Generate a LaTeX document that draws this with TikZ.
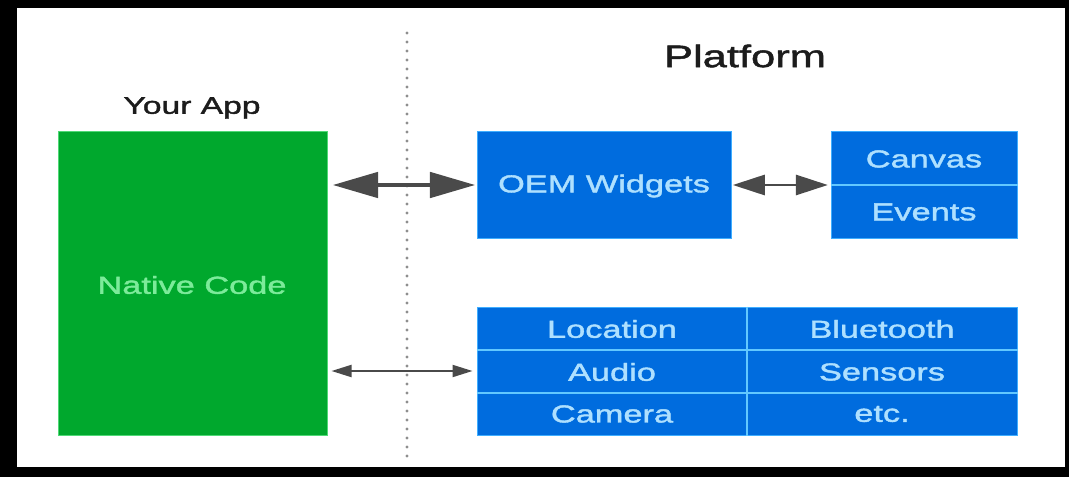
\documentclass[tikz,border=0pt]{standalone}
\usepackage{fontspec}
\setmainfont{Liberation Sans}[FakeStretch=1.4,FakeBold=1.6]
\usetikzlibrary{arrows.meta,fit,calc}

\definecolor{appgreen}{HTML}{00A82D}
\definecolor{appedge}{HTML}{4FD976}
\definecolor{apptext}{HTML}{7CEB9A}
\definecolor{platblue}{HTML}{006CDE}
\definecolor{platedge}{HTML}{3FAEFF}
\definecolor{celltext}{HTML}{AEE0FF}
\definecolor{cellrule}{HTML}{62C8FF}
\definecolor{linkgray}{HTML}{4A4A4A}
\definecolor{dotgray}{HTML}{8E8E8E}
\definecolor{headgray}{HTML}{1C1C1C}

\newcommand\cellfont{\fontsize{18.4}{22}\selectfont}

\tikzset{
  appbox/.style={fill=appgreen, draw=appedge, line width=0.75pt, inner sep=0pt},
  platbox/.style={fill=platblue, draw=platedge, line width=0.75pt, inner sep=0pt},
  cell/.style={text=celltext, font=\cellfont, inner sep=0pt},
  cellrule/.style={draw=cellrule, line width=1.5pt},
  heading/.style={text=headgray, inner sep=0pt},
  boundary/.style={draw=dotgray, line width=2.5pt, line cap=round,
    dash pattern=on 0pt off 6.75pt},
  biglink/.style={draw=linkgray, line width=3pt,
    {Triangle[length=34pt,width=19pt]}-{Triangle[length=34pt,width=19pt]},
    shorten <=4pt, shorten >=1pt},
  midlink/.style={draw=linkgray, line width=2.2pt,
    {Triangle[length=24pt,width=15pt]}-{Triangle[length=24pt,width=15pt]},
    shorten <=1pt, shorten >=2pt},
  smalllink/.style={draw=linkgray, line width=1.5pt,
    {Triangle[length=15pt,width=9pt]}-{Triangle[length=15pt,width=9pt]},
    shorten <=3pt, shorten >=3pt},
}

\begin{document}
\begin{tikzpicture}[x=0.75pt, y=-0.75pt]
  \useasboundingbox (0,0) rectangle (1069,477);
  % black frame around a white sheet
  \fill[black] (0,0) rectangle (1069,477);
  \fill[white] (17,8) rectangle (1065,467);

  % headings
  \node[heading, font=\fontsize{18}{22}\selectfont] (apptitle) at (192,108) {Your App};
  \node[heading, font=\fontsize{23.3}{28}\selectfont] (plattitle) at (745,56) {Platform};

  % app / platform boundary
  \coordinate (btop) at (407,33);
  \coordinate (bbot) at (407,461);
  \draw[boundary] (btop) -- (bbot);

  % your app
  \node[appbox, fit={(58,132) (327,435)}] (app) {};
  \node[cell, text=apptext] (native) at (192,285) {Native Code};

  % widgets and their rendering surface
  \node[platbox, fit={(477,132) (731,238)}] (oem) {};
  \node[cell] (oemtxt) at (604,186) {OEM Widgets};
  \node[platbox, fit={(831,132) (1017,238)}] (canvas) {};
  \draw[cellrule] (canvas.west) -- (canvas.east);
  \node[cell] (canvastxt) at (924,159) {Canvas};
  \node[cell] (eventstxt) at (924,212) {Events};

  % platform services
  \node[platbox, fit={(477,307) (1017,435)}] (services) {};
  \draw[cellrule] (services.north) -- (services.south);
  \draw[cellrule] ($(services.north west)!1/3!(services.south west)$)
                -- ($(services.north east)!1/3!(services.south east)$);
  \draw[cellrule] ($(services.north west)!2/3!(services.south west)$)
                -- ($(services.north east)!2/3!(services.south east)$);
  \node[cell] (location)  at (612,329) {Location};
  \node[cell] (bluetooth) at (882,329) {Bluetooth};
  \node[cell] (audio)     at (612,372) {Audio};
  \node[cell] (sensors)   at (882,372) {Sensors};
  \node[cell] (camera)    at (612,414) {Camera};
  \node[cell] (etc)       at (882,414) {etc.};

  % connectors
  \draw[biglink] (oem.west -| app.east) -- (oem.west);
  \draw[midlink] (oem.east) -- (canvas.west);
  \draw[smalllink] (services.west -| app.east) -- (services.west);
\end{tikzpicture}
\end{document}
